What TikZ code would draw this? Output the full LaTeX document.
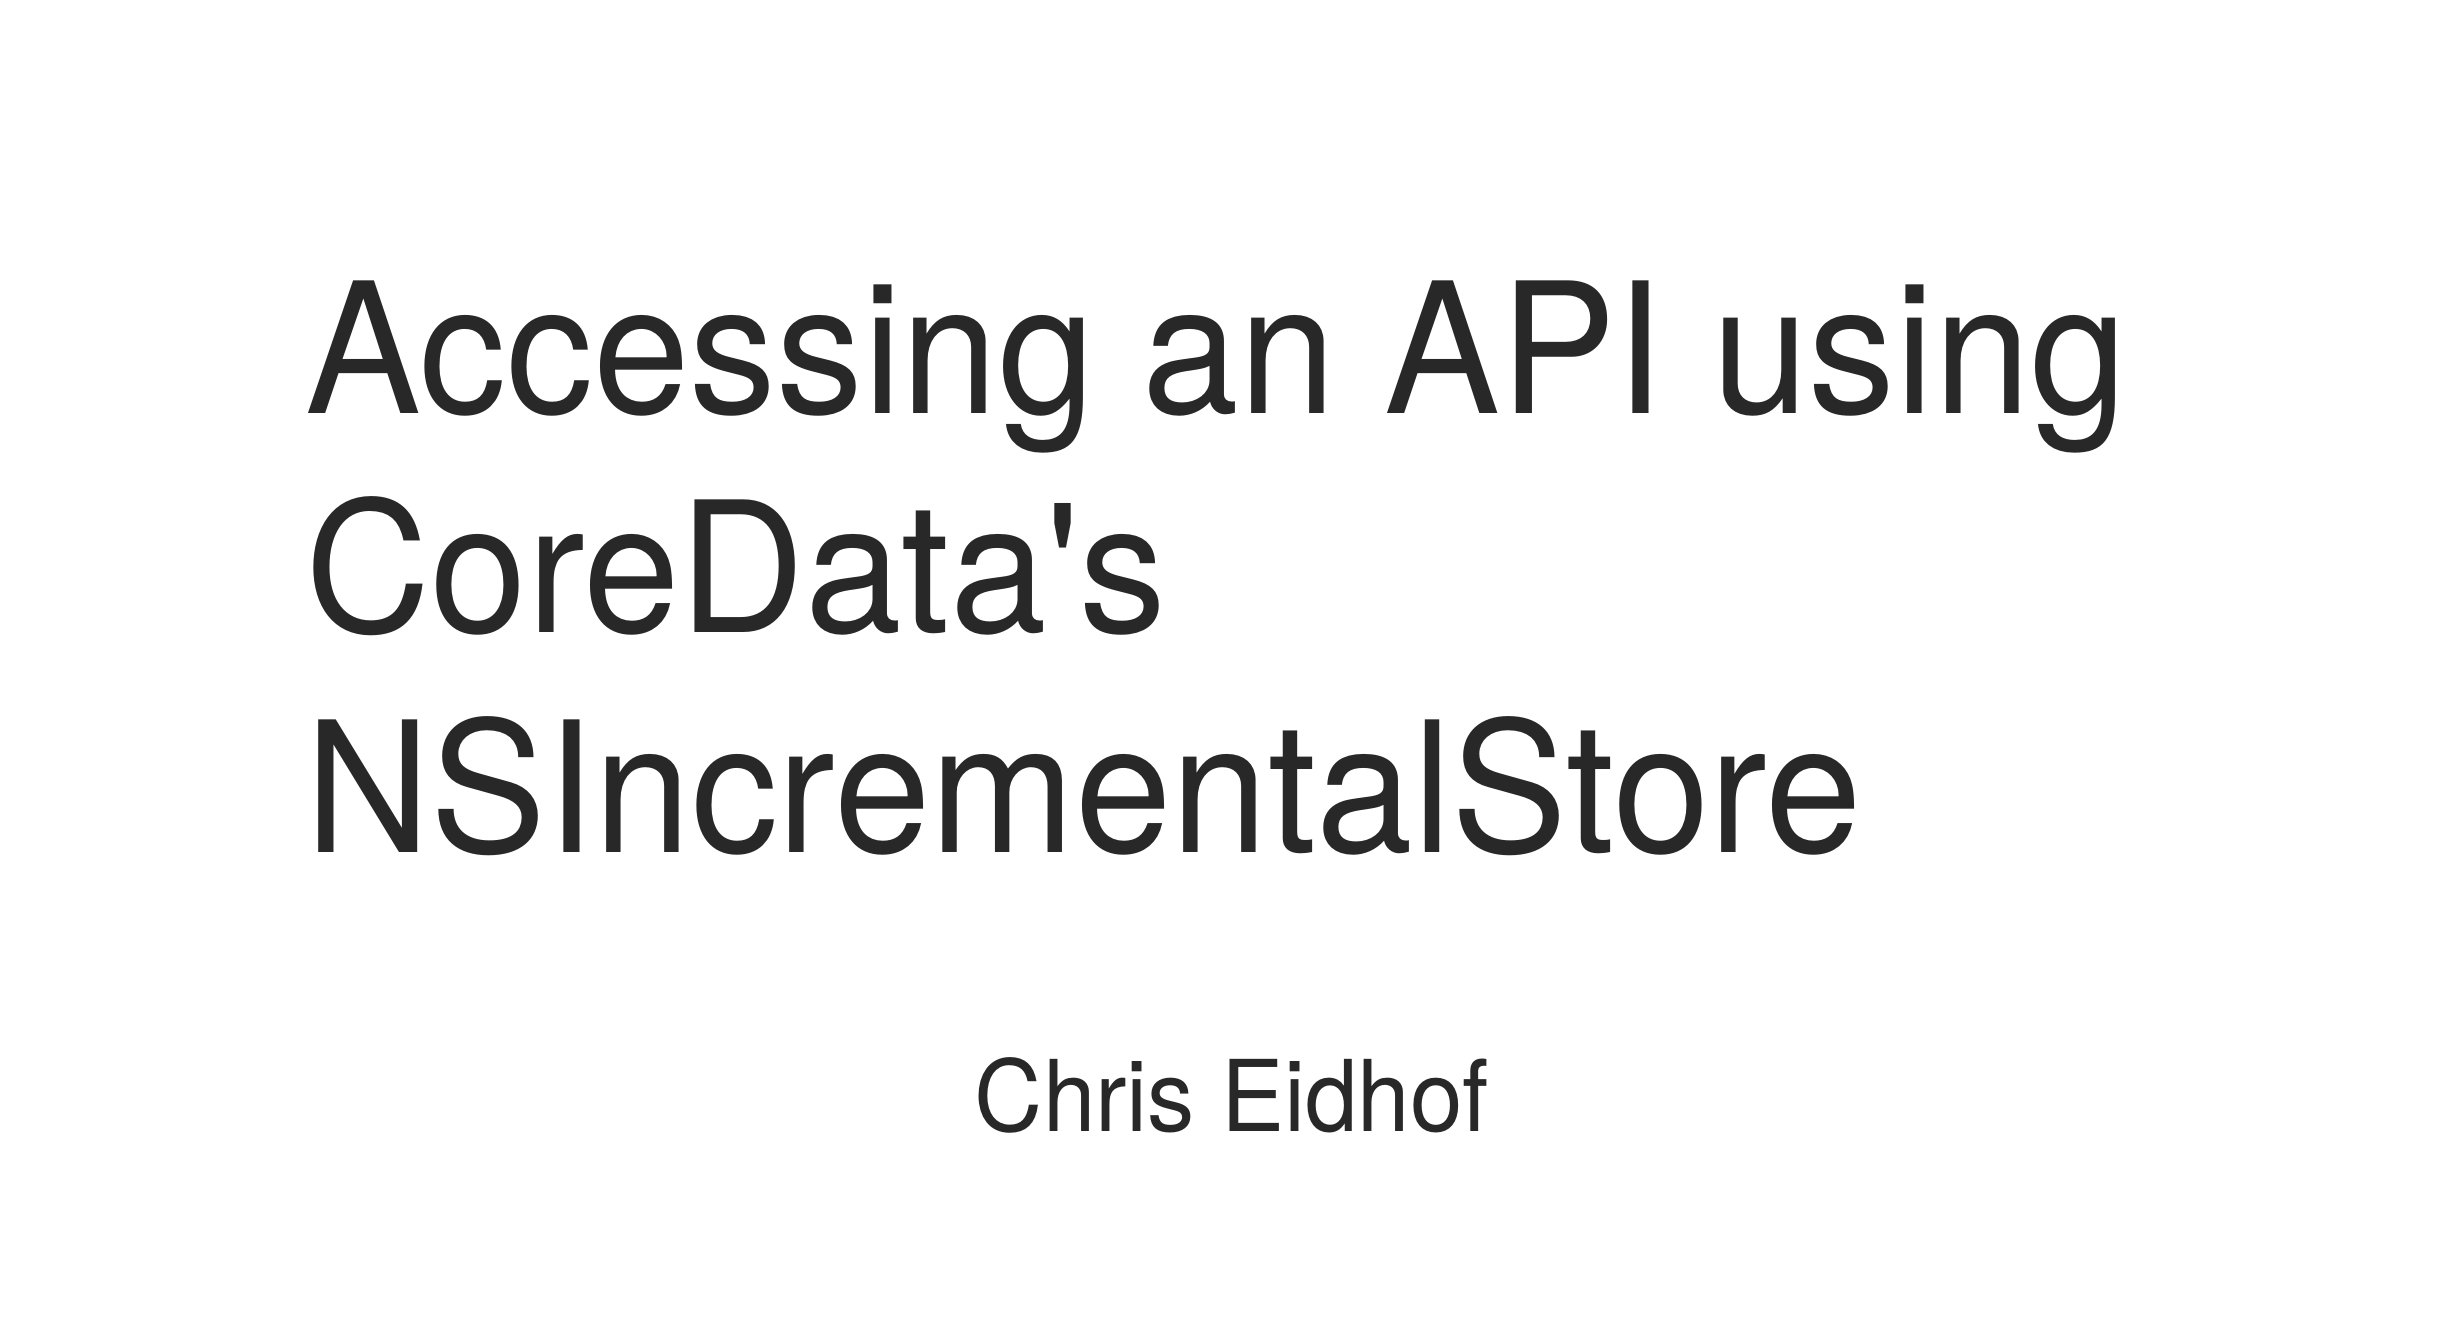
\documentclass[tikz,border=0pt]{standalone}
\usepackage{fontspec}
\newfontfamily\slidefont{TeX Gyre Heros}[FakeStretch=0.954]
\definecolor{slidetext}{RGB}{40,40,40}

\begin{document}
\begin{tikzpicture}[x=1pt,y=1pt,line cap=round,line join=round,
    titleline/.style={anchor=base west,inner sep=0pt,text=slidetext,font=\slidefont\fontsize{182}{220}\selectfont},
    byline/.style={anchor=base,inner sep=0pt,text=slidetext,font=\slidefont\fontsize{99}{120}\selectfont}]
      \useasboundingbox[fill=white] (0,0) rectangle (2464,-1324);
      \node[titleline] (line1) at (305,-413) {Accessing an API using};
      \node[titleline] (line2) at (305,-632) {CoreData's};
      \node[titleline] (line3) at (305,-852) {NSIncrementalStore};
      \node[byline] (author) at (1232,-1131) {Chris Eidhof};
    \end{tikzpicture}
\end{document}
